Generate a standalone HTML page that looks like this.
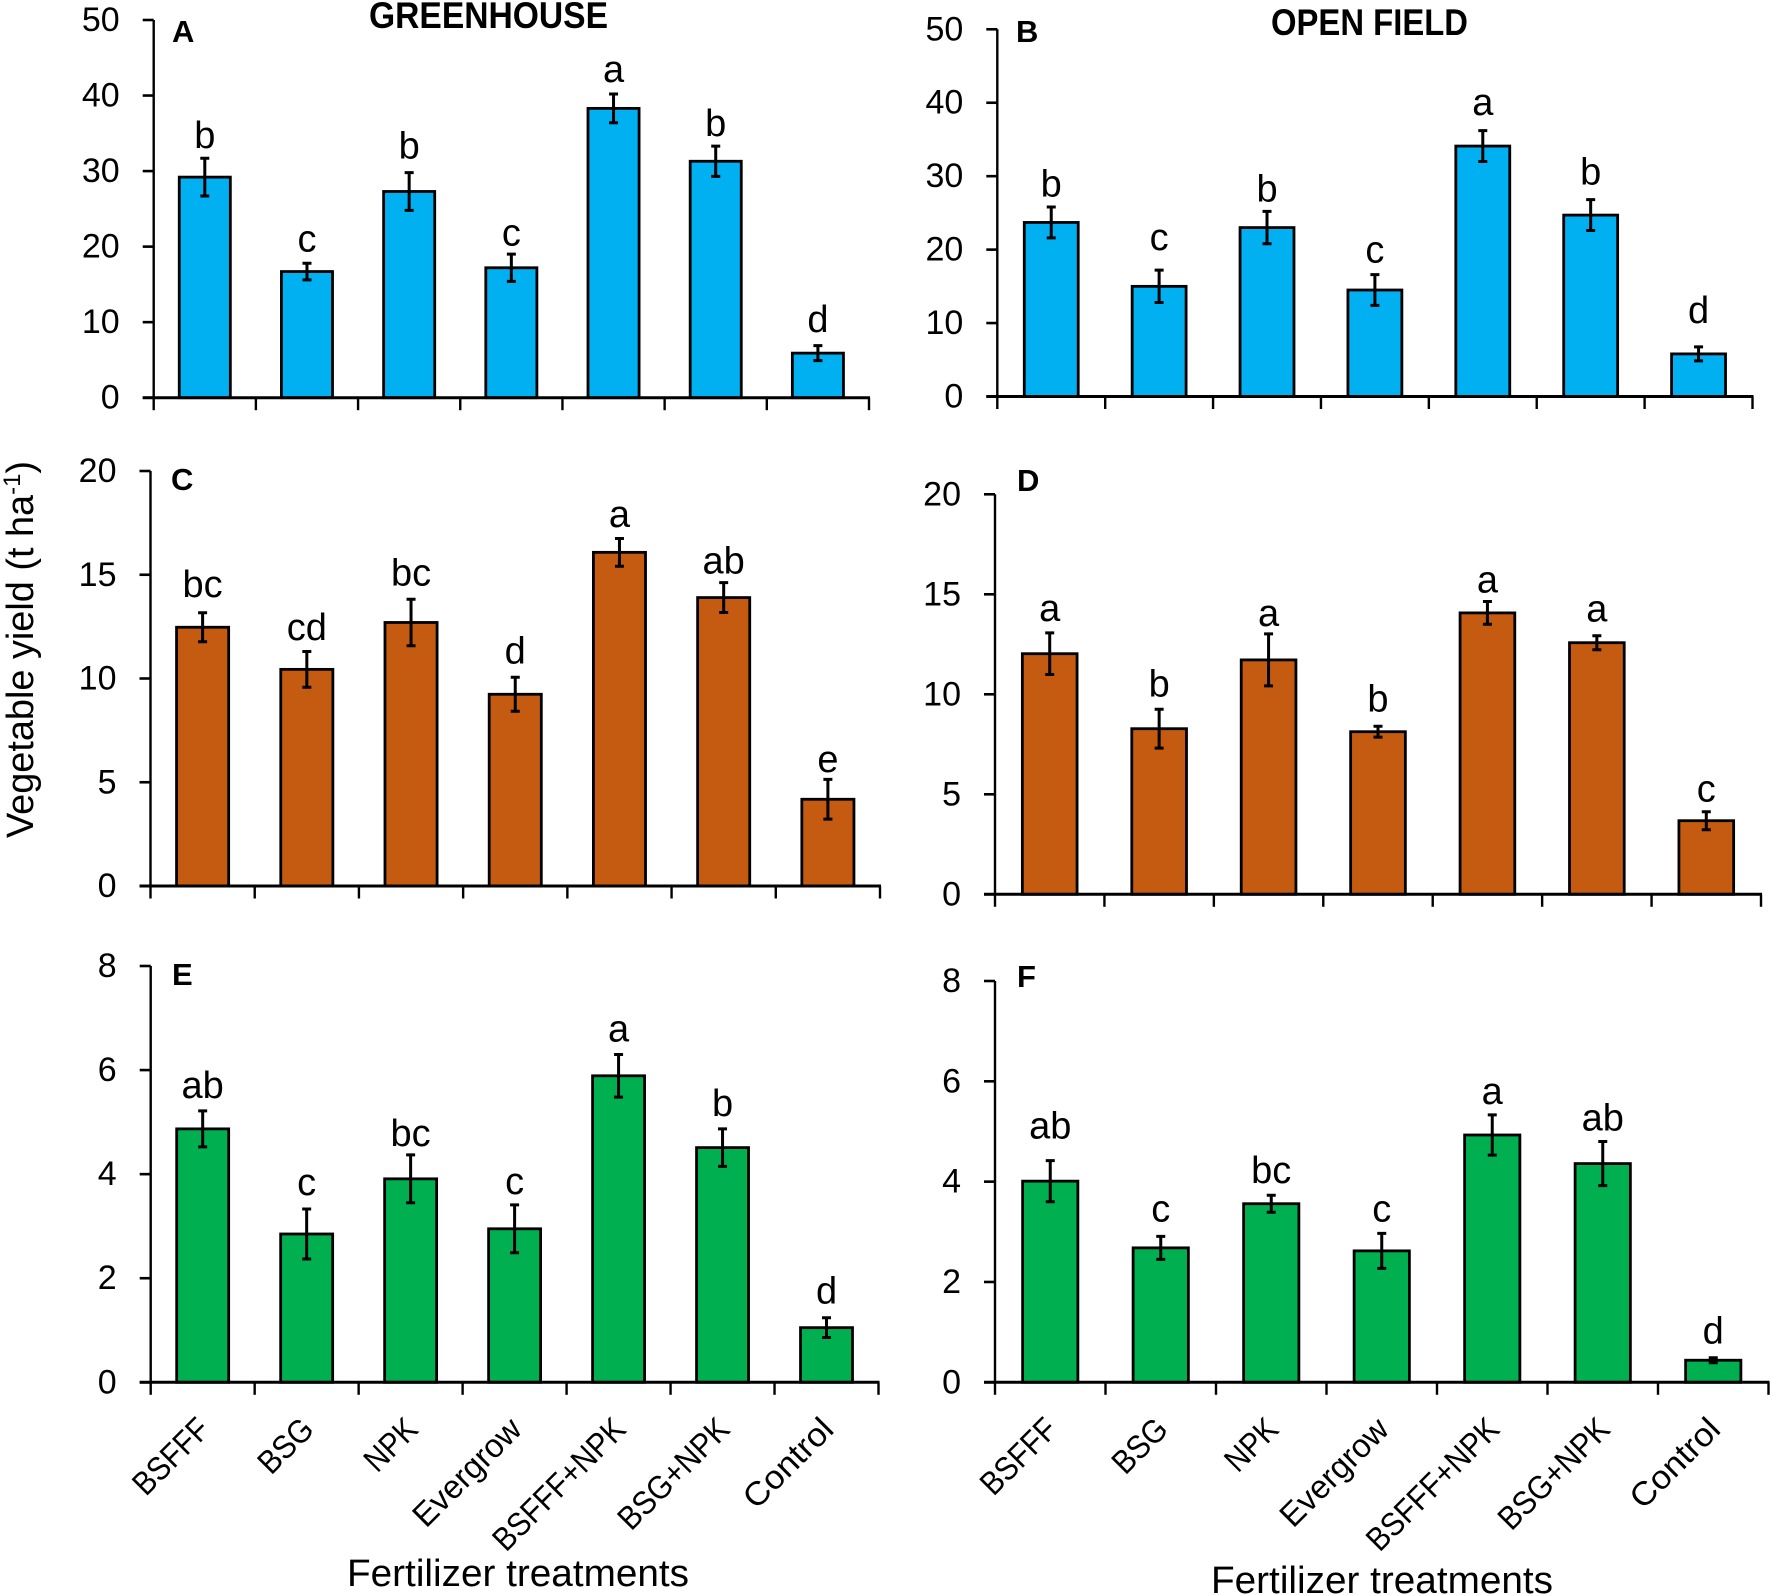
<!DOCTYPE html>
<html lang="en">
<head>
<meta charset="utf-8">
<title>Vegetable yield by fertilizer treatment</title>
<style>
html,body{margin:0;padding:0;background:#fff;width:1772px;height:1595px;overflow:hidden}
svg{display:block}
text{font-family:"Liberation Sans",sans-serif;fill:#000}
</style>
</head>
<body>
<svg id="figure" xmlns="http://www.w3.org/2000/svg" width="1772" height="1595" viewBox="0 0 1772 1595">
  <rect x="0" y="0" width="1772" height="1595" fill="#fff"/>
  <text x="369" y="28" font-size="37" font-weight="700" textLength="239" lengthAdjust="spacingAndGlyphs">GREENHOUSE</text>
  <text x="1271" y="35" font-size="37" font-weight="700" textLength="197" lengthAdjust="spacingAndGlyphs">OPEN FIELD</text>
  <text transform="translate(33 838) rotate(-90)" x="0" y="0" font-size="38" textLength="377" lengthAdjust="spacingAndGlyphs">Vegetable yield (t ha<tspan font-size="24" dy="-13">-1</tspan><tspan dy="13">)</tspan></text>
  <text x="347" y="1586" font-size="38" textLength="342" lengthAdjust="spacingAndGlyphs">Fertilizer treatments</text>
  <text x="1211" y="1593" font-size="38" textLength="342" lengthAdjust="spacingAndGlyphs">Fertilizer treatments</text>
</svg>
<script>
const categories = ["BSFFF", "BSG", "NPK", "Evergrow", "BSFFF+NPK", "BSG+NPK", "Control"];

const ticksAB = [0, 10, 20, 30, 40, 50];
const ticksCD = [0, 5, 10, 15, 20];
const ticksEF = [0, 2, 4, 6, 8];

const valuesA = [29.2, 16.7, 27.3, 17.2, 38.3, 31.3, 5.9];
const errorsA = [2.5, 1.1, 2.5, 1.8, 1.9, 2.0, 1.0];
const lettersA = ["b", "c", "b", "c", "a", "b", "d"];
const clearanceA = [1.5, 1.7, 2.0, 1.3, 1.7, 1.5, 1.9];

const valuesB = [23.7, 15.0, 23.0, 14.5, 34.1, 24.7, 5.8];
const errorsB = [2.1, 2.2, 2.2, 2.1, 2.1, 2.1, 0.95];
const lettersB = ["b", "c", "b", "c", "a", "b", "d"];
const clearanceB = [1.6, 2.9, 1.5, 1.8, 2.3, 2.2, 3.4];

const valuesC = [12.47, 10.44, 12.7, 9.24, 16.08, 13.9, 4.18];
const errorsC = [0.7, 0.86, 1.12, 0.82, 0.67, 0.72, 0.96];
const lettersC = ["bc", "cd", "bc", "d", "a", "ab", "e"];
const clearanceC = [0.8, 0.6, 0.7, 0.7, 0.6, 0.5, 0.4];

const valuesD = [12.03, 8.28, 11.72, 8.13, 14.07, 12.58, 3.68];
const errorsD = [1.04, 0.97, 1.3, 0.27, 0.57, 0.35, 0.45];
const lettersD = ["a", "b", "a", "b", "a", "a", "c"];
const clearanceD = [0.65, 0.7, 0.45, 0.8, 0.5, 0.75, 0.55];

const valuesE = [4.87, 2.85, 3.91, 2.95, 5.89, 4.51, 1.05];
const errorsE = [0.345, 0.48, 0.46, 0.46, 0.41, 0.36, 0.19];
const lettersE = ["ab", "c", "bc", "c", "a", "b", "d"];
const clearanceE = [0.27, 0.29, 0.19, 0.23, 0.27, 0.27, 0.29];

const valuesF = [4.01, 2.68, 3.56, 2.62, 4.93, 4.36, 0.44];
const errorsF = [0.41, 0.23, 0.17, 0.35, 0.4, 0.44, 0.05];
const lettersF = ["ab", "c", "bc", "c", "a", "ab", "d"];
const clearanceF = [0.46, 0.32, 0.26, 0.26, 0.24, 0.24, 0.3];

const panelA = {key: "a", label: "A", lx: 172, ly: 42, x0: 153.7, x1: 869, y0: 397.7, yTop: 20, max: 50, color: "#00b0f0", ticks: ticksAB, values: valuesA, errors: errorsA, letters: lettersA, clearance: clearanceA, showCats: false};
const panelB = {key: "b", label: "B", lx: 1016, ly: 42, x0: 997.3, x1: 1752.5, y0: 396.5, yTop: 29.3, max: 50, color: "#00b0f0", ticks: ticksAB, values: valuesB, errors: errorsB, letters: lettersB, clearance: clearanceB, showCats: false};
const panelC = {key: "c", label: "C", lx: 171, ly: 490, x0: 150.5, x1: 880, y0: 886, yTop: 471, max: 20, color: "#c55a11", ticks: ticksCD, values: valuesC, errors: errorsC, letters: lettersC, clearance: clearanceC, showCats: false};
const panelD = {key: "d", label: "D", lx: 1017, ly: 491, x0: 995, x1: 1761, y0: 894.3, yTop: 494.3, max: 20, color: "#c55a11", ticks: ticksCD, values: valuesD, errors: errorsD, letters: lettersD, clearance: clearanceD, showCats: false};
const panelE = {key: "e", label: "E", lx: 172, ly: 985, x0: 150.7, x1: 878.5, y0: 1382.3, yTop: 966, max: 8, color: "#00b050", ticks: ticksEF, values: valuesE, errors: errorsE, letters: lettersE, clearance: clearanceE, showCats: true};
const panelF = {key: "f", label: "F", lx: 1017, ly: 987, x0: 995, x1: 1768.5, y0: 1382.3, yTop: 981, max: 8, color: "#00b050", ticks: ticksEF, values: valuesF, errors: errorsF, letters: lettersF, clearance: clearanceF, showCats: true};
const panels = [panelA, panelB, panelC, panelD, panelE, panelF];

const SVGNS = "http://www.w3.org/2000/svg";
const figure = document.getElementById("figure");

function make(tag, attrs, parent) {
  const el = document.createElementNS(SVGNS, tag);
  for (const k in attrs) el.setAttribute(k, attrs[k]);
  parent.appendChild(el);
  return el;
}
function yScale(p, v) {
  return p.y0 - (v / p.max) * (p.y0 - p.yTop);
}
function bandStep(p) {
  return (p.x1 - p.x0) / categories.length;
}
function xCenter(p, i) {
  return p.x0 + bandStep(p) * (i + 0.5);
}
/* The original labels use a narrower typeface: fit each rotated label to its drawn length. */
function labelLength(name) {
  if (name === "BSFFF") return 93;
  if (name === "BSG") return 63;
  if (name === "NPK") return 60;
  if (name === "Evergrow") return 138;
  if (name === "BSFFF+NPK") return 172;
  if (name === "BSG+NPK") return 142;
  return 112;
}

panels.forEach(function (p) {
  const group = make("g", {}, figure);
  
  

  const barWidth = bandStep(p) * 0.5;

  p.values.forEach(function (v, i) {
    const cx = xCenter(p, i);
    const top = yScale(p, v);
    const bar = make("rect", {x: cx - barWidth / 2, y: top, width: barWidth, height: p.y0 - top, fill: p.color, stroke: "#000", "stroke-width": 2.8}, group);
    
    

    const hi = yScale(p, v + p.errors[i]);
    const lo = yScale(p, v - p.errors[i]);
    const err = make("path", {d: "M" + cx + " " + hi + "V" + lo + "M" + (cx - 4.5) + " " + hi + "H" + (cx + 4.5) + "M" + (cx - 4.5) + " " + lo + "H" + (cx + 4.5), fill: "none", stroke: "#000", "stroke-width": 3}, group);
    
    

    const letter = make("text", {x: cx, y: yScale(p, v + p.errors[i] + p.clearance[i]) + 1, "font-size": 38, "text-anchor": "middle"}, group);
    letter.textContent = p.letters[i];
    
    
  });

  const yAxis = make("line", {x1: p.x0, x2: p.x0, y1: p.yTop, y2: p.y0, stroke: "#000", "stroke-width": 2.4}, group);
  
  

  const xAxis = make("line", {x1: p.x0 - 11, x2: p.x1 + 1, y1: p.y0, y2: p.y0, stroke: "#000", "stroke-width": 3}, group);
  
  

  p.ticks.forEach(function (t) {
    const y = yScale(p, t);
    const tick = make("line", {x1: p.x0 - 11, x2: p.x0, y1: y, y2: y, stroke: "#000", "stroke-width": 2.6}, group);
    
    

    const label = make("text", {x: p.x0 - 34, y: y + 11, "font-size": 34, "text-anchor": "end"}, group);
    label.textContent = String(t);
    
    
  });

  for (let i = 0; i <= categories.length; i++) {
    const x = p.x0 + bandStep(p) * i;
    const tick = make("line", {x1: x, x2: x, y1: p.y0, y2: p.y0 + 12.5, stroke: "#000", "stroke-width": 2.4}, group);
    
    
  }

  if (p.showCats) {
    categories.forEach(function (c, i) {
      const ax = xCenter(p, i) + 9;
      const ay = p.y0 + 49;
      const cat = make("text", {x: ax, y: ay, "font-size": 33, "text-anchor": "end", textLength: labelLength(c), lengthAdjust: "spacingAndGlyphs", transform: "rotate(-45 " + ax + " " + ay + ")"}, group);
      cat.textContent = c;
      
      
    });
  }

  const panelLetter = make("text", {x: p.lx, y: p.ly, "font-size": 31, "font-weight": 700}, group);
  panelLetter.textContent = p.label;
  
  
});
</script>
</body>
</html>
